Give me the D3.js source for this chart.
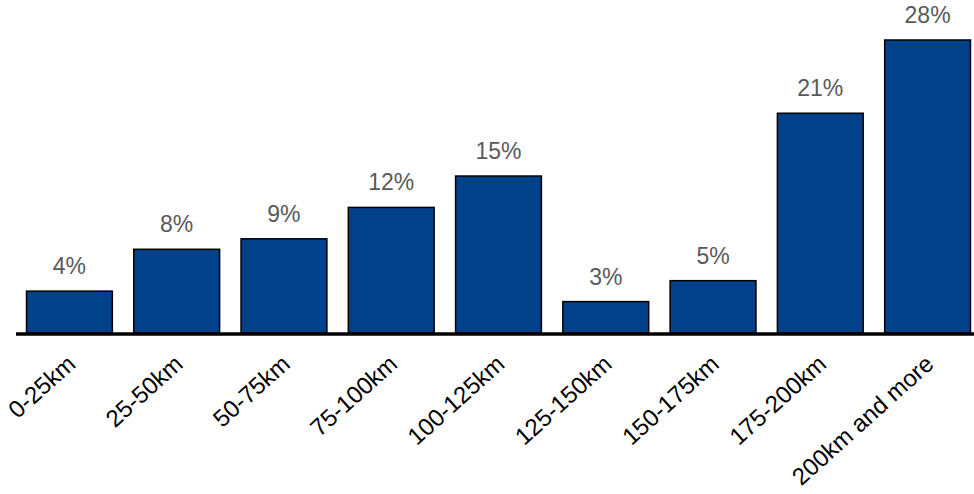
<!DOCTYPE html>
<html>
<head>
<meta charset="utf-8">
<script src="https://cdn.jsdelivr.net/npm/d3@7"></script>
<style>
  html, body { margin: 0; padding: 0; background: #fff; }
  svg { display: block; }
</style>
</head>
<body>
<svg id="chart" width="974" height="494"></svg>
<script>
// Distance bands and share of trips in each band (%)
const categories = ["0-25km", "25-50km", "50-75km", "75-100km", "100-125km",
                    "125-150km", "150-175km", "175-200km", "200km and more"];
const shares = [4, 8, 9, 12, 15, 3, 5, 21, 28];
const valueLabels = ["4%", "8%", "9%", "12%", "15%", "3%", "5%", "21%", "28%"];

const W = 974, H = 494;
const svg = d3.select("#chart");

const baseY = 333;
const x = d3.scaleBand()
  .domain(categories)
  .range([16, 981])
  .paddingInner(0.2)
  .paddingOuter(0.098);

const y = d3.scaleLinear()
  .domain([0, 28])
  .range([baseY, 40]);

const data = categories.map((c, i) => ({ cat: c, v: shares[i], label: valueLabels[i] }));

// Bars
svg.append("g")
  .selectAll("rect")
  .data(data)
  .join("rect")
  .attr("x", d => x(d.cat))
  .attr("y", d => y(d.v))
  .attr("width", x.bandwidth())
  .attr("height", d => baseY - y(d.v))
  .attr("fill", "#01418A")
  .attr("stroke", "#000")
  .attr("stroke-width", 1.5);

// Value labels above bars
svg.append("g")
  .selectAll("text")
  .data(data)
  .join("text")
  .attr("x", d => x(d.cat) + x.bandwidth() / 2)
  .attr("y", d => y(d.v) - 17)
  .attr("text-anchor", "middle")
  .attr("font-family", "'Liberation Sans', Arial, sans-serif")
  .attr("font-size", 23)
  .attr("fill", "#595959")
  .text(d => d.label);

// Baseline axis
const xAxis = d3.axisBottom(x).tickSize(0).tickPadding(0);
const axisG = svg.append("g")
  .attr("transform", `translate(0,${baseY + 1})`)
  .call(xAxis);
axisG.select(".domain").remove();
axisG.append("line")
  .attr("x1", 16).attr("x2", W)
  .attr("y1", 0).attr("y2", 0)
  .attr("stroke", "#000")
  .attr("stroke-width", 3.5);

axisG.selectAll(".tick text")
  .attr("font-family", "'Liberation Sans', Arial, sans-serif")
  .attr("font-size", 24)
  .attr("fill", "#000")
  .attr("text-anchor", "end")
  .attr("dy", 0)
  .attr("transform", "translate(7.6,32) rotate(-42)");
</script>
</body>
</html>
